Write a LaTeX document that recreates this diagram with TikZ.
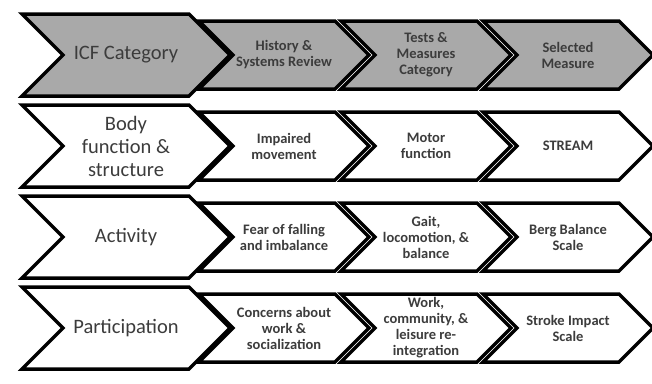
\documentclass[tikz,border=0pt]{standalone}
\usepackage{fontspec}
\setmainfont{Carlito}
\usetikzlibrary{shapes.symbols, positioning}
\definecolor{chevgray}{HTML}{A9A9A9}
\definecolor{txtgray}{HTML}{3C3C3C}

\begin{document}
\begin{tikzpicture}[x=1pt, y=-1pt,
  chev/.style={signal, signal from=west, signal to=east, draw=black, line width=3.5pt, inner sep=0pt, outer sep=0pt, align=center, text=txtgray},
  bigchev/.style={chev, minimum width=208pt, minimum height=82pt, font=\fontsize{20.5}{23}\selectfont},
  smallchev/.style={chev, minimum width=170pt, minimum height=68pt, font=\bfseries\fontsize{14.5}{16}\selectfont}]
\useasboundingbox (0,0) rectangle (652,383);
% header row
\node[smallchev, fill=chevgray] (hist) at (284,55) {History \&\\Systems Review};
\node[smallchev, fill=chevgray] (tests) at (426,55) {Tests \&\\Measures\\Category};
\node[smallchev, fill=chevgray] (measure) at (568,55) {Selected\\Measure};
\node[bigchev, fill=chevgray] (icf) at (126,55) {ICF Category};
% body function
\node[smallchev, fill=white] (impaired) at (284,146) {Impaired\\movement};
\node[smallchev, fill=white] (motor) at (426,146) {Motor\\function};
\node[smallchev, fill=white] (stream) at (568,146) {STREAM};
\node[bigchev, fill=white] (body) at (126,146) {Body\\function \&\\structure};
% activity
\node[smallchev, fill=white] (fear) at (284,237) {Fear of falling\\and imbalance};
\node[smallchev, fill=white] (gait) at (426,237) {Gait,\\locomotion, \&\\balance};
\node[smallchev, fill=white] (berg) at (568,237) {Berg Balance\\Scale};
\node[bigchev, fill=white] (activity) at (126,237) {Activity};
% participation
\node[smallchev, fill=white] (concerns) at (284,328) {Concerns about\\work \&\\socialization};
\node[smallchev, fill=white] (work) at (426,328) {Work,\\community, \&\\leisure re-\\integration};
\node[smallchev, fill=white] (sis) at (568,328) {Stroke Impact\\Scale};
\node[bigchev, fill=white] (particip) at (126,328) {Participation};
\end{tikzpicture}
\end{document}
